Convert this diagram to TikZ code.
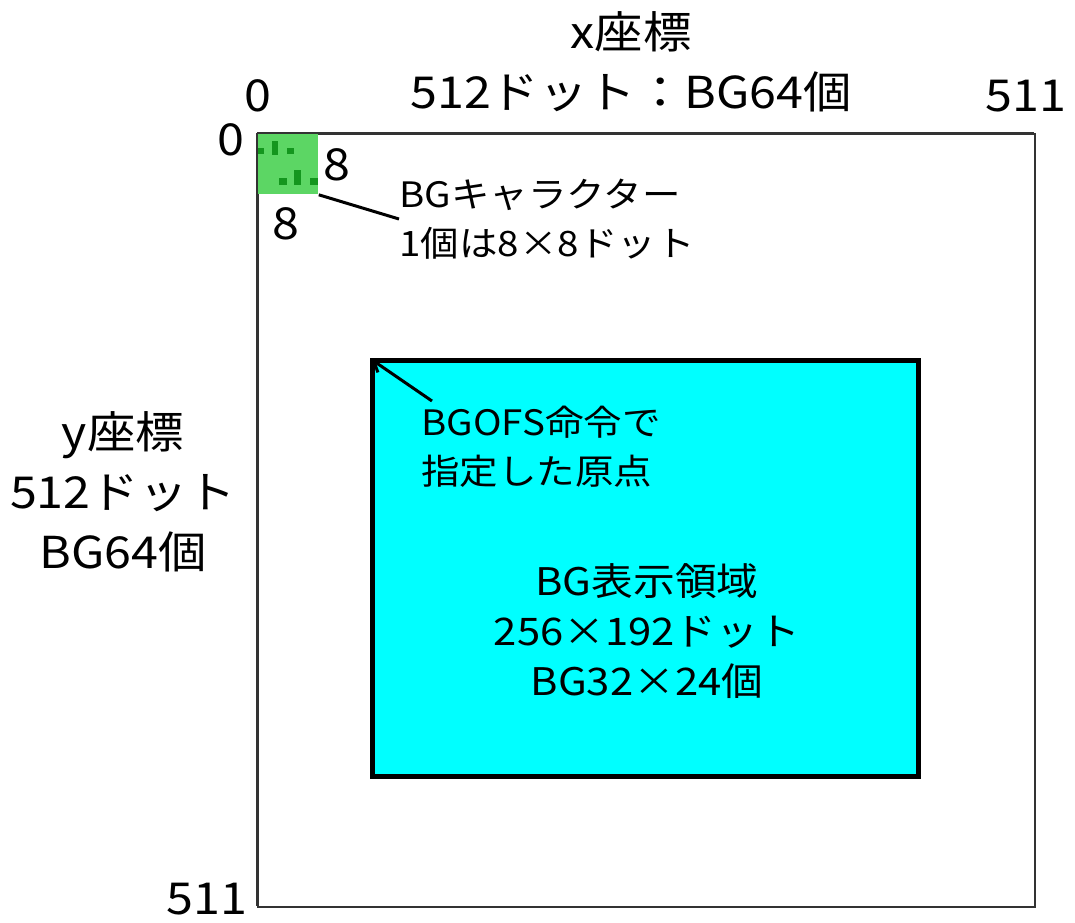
\documentclass[tikz,border=0pt]{standalone}
\usepackage{fontspec}
\setmainfont[FakeStretch=1.1]{Noto Sans CJK JP}
\usetikzlibrary{arrows.meta, positioning}
\definecolor{tilegreen}{RGB}{92,214,100}
\definecolor{dotgreen}{RGB}{20,150,30}
\definecolor{areacyan}{RGB}{0,255,255}
\tikzstyle{bigtext} = [font=\fontsize{22}{30}\selectfont, align=center, inner sep=0pt]
\tikzstyle{midtext} = [font=\fontsize{19}{25}\selectfont, align=center, inner sep=0pt]
\tikzstyle{smalltext} = [font=\fontsize{17.5}{24.5}\selectfont, align=left, inner sep=0pt, anchor=west]
\tikzstyle{screen} = [draw=black!80, line width=1pt, rectangle, inner sep=0pt, minimum width=388.5pt, minimum height=386.5pt]
\tikzstyle{viewarea} = [draw=black, fill=areacyan, line width=2.5pt, rectangle, inner sep=0pt, minimum width=273pt, minimum height=208pt]
\tikzstyle{bgtile} = [fill=tilegreen, rectangle, inner sep=0pt, minimum size=30.5pt]
\tikzstyle{tiledot} = [fill=dotgreen]

\begin{document}
\begin{tikzpicture}[x=0.5pt, y=-0.5pt]
	\useasboundingbox (0,0) rectangle (1075,922);
	% screen and display area
	\node [screen, anchor=north west] (scr) at (257,133) {};
	\node [viewarea] (area) at (645,568) {};
	\node [bgtile, anchor=north west] (tile) at (257,133) {};
	\fill [tiledot] (257,148) rectangle (264,154);
	\fill [tiledot] (272,141) rectangle (278,155);
	\fill [tiledot] (287,148) rectangle (294,154);
	\fill [tiledot] (279,178) rectangle (287,185);
	\fill [tiledot] (294,170) rectangle (301,185);
	\fill [tiledot] (310,178) rectangle (318,185);
	\draw [black!80, line width=1pt] (257,133) -- (257,906) (257,133) -- (1034,133);
	% axis labels
	\node [bigtext] (xlabel) at (631,62) {x座標\\512ドット：BG64個};
	\node [bigtext] (xmin) at (258,96) {0};
	\node [bigtext] (xmax) at (1026,96) {511};
	\node [bigtext] (ymin) at (231,140) {0};
	\node [bigtext] (ymax) at (207,899) {511};
	\node [bigtext] (ylabel) at (123,492) {y座標\\512ドット\\BG64個};
	\node [bigtext] (tilew) at (337,165) {8};
	\node [bigtext] (tileh) at (286,224) {8};
	% notes
	\node [smalltext] (chrnote) at (399,219) {BGキャラクター\\1個は8×8ドット};
	\node [smalltext] (orgnote) at (421,447) {BGOFS命令で\\指定した原点};
	\node [midtext] (areanote) at (647,631) {BG表示領域\\256×192ドット\\BG32×24個};
	\coordinate (orgtail) at (432,401);
	\draw [line width=1.5pt] (tile.south east) -- (chrnote.west);
	\draw [line width=1.5pt, -{Straight Barb[length=5pt, width=7pt]}] (orgtail) -- ([shift={(2,2)}]area.north west);
\end{tikzpicture}
\end{document}
